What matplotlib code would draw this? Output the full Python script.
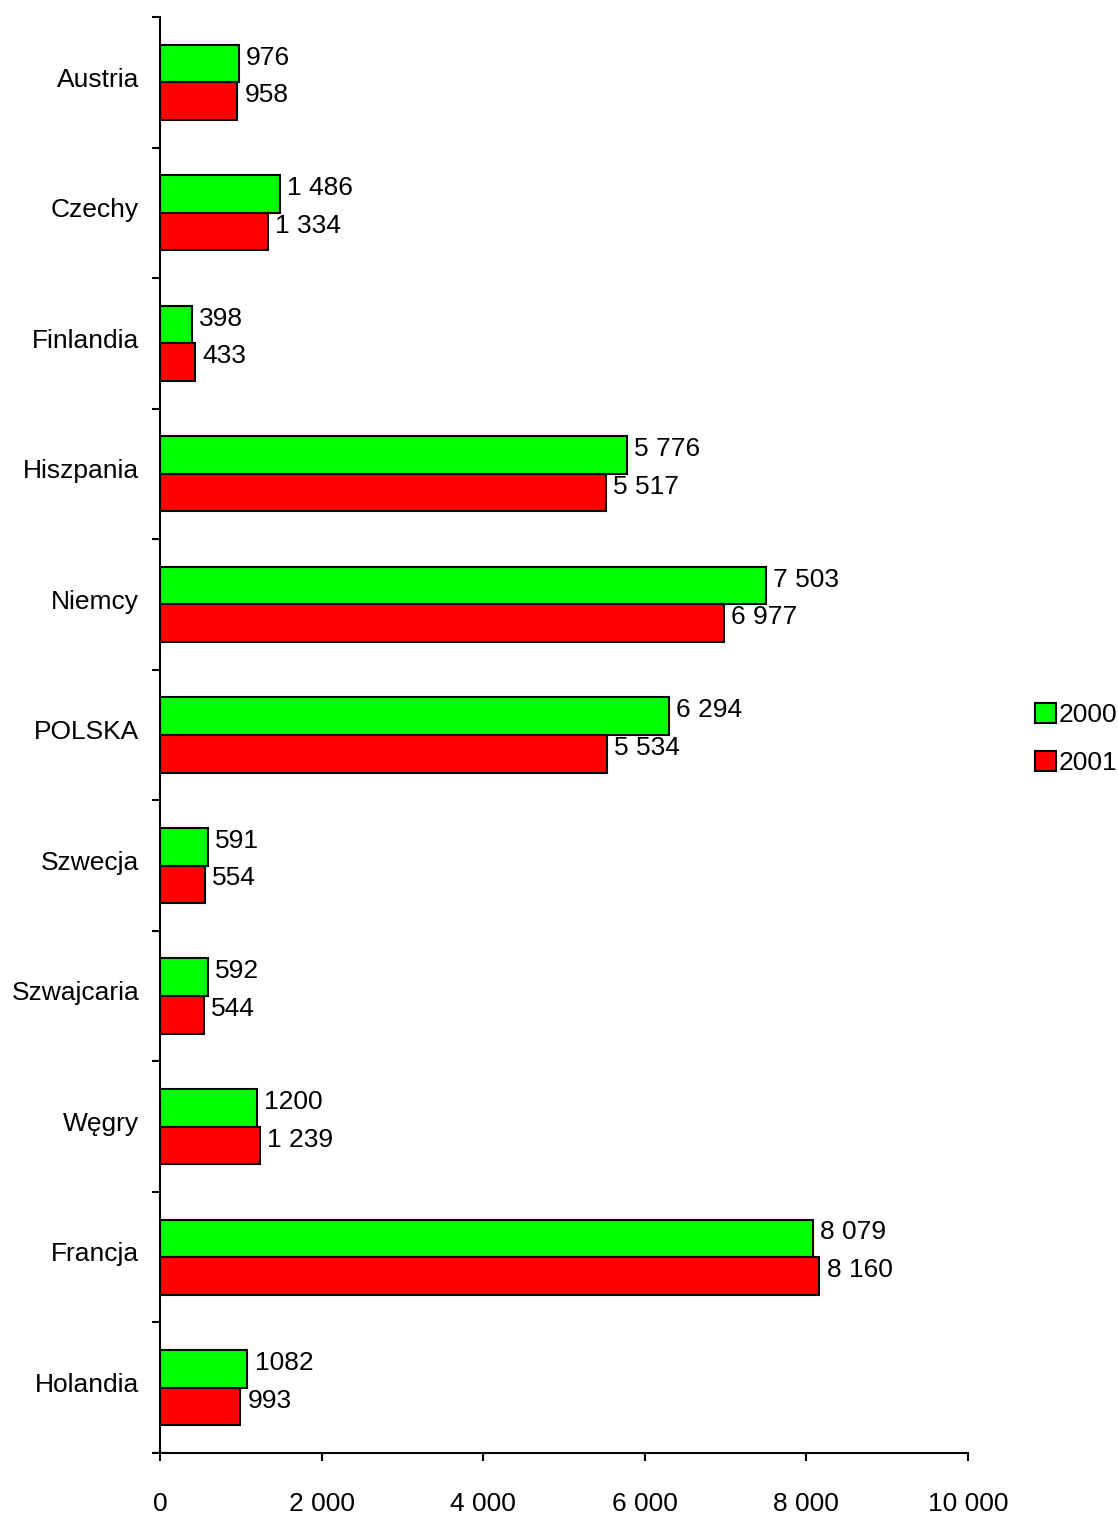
import numpy as np
import matplotlib.pyplot as plt
from matplotlib.patches import Patch

plt.rcParams['font.family'] = ['Liberation Sans', 'DejaVu Sans']

# data
countries = ['Austria', 'Czechy', 'Finlandia', 'Hiszpania', 'Niemcy', 'POLSKA',
             'Szwecja', 'Szwajcaria', 'Węgry', 'Francja', 'Holandia']
v2000 = [976, 1486, 398, 5776, 7503, 6294, 591, 592, 1200, 8079, 1082]
v2001 = [958, 1334, 433, 5517, 6977, 5534, 554, 544, 1239, 8160, 993]
lab2000 = ['976', '1 486', '398', '5 776', '7 503', '6 294', '591', '592', '1200', '8 079', '1082']
lab2001 = ['958', '1 334', '433', '5 517', '6 977', '5 534', '554', '544', '1 239', '8 160', '993']
xticks = [0, 2000, 4000, 6000, 8000, 10000]
xticklabels = ['0', '2 000', '4 000', '6 000', '8 000', '10 000']

fig = plt.figure(figsize=(11.18, 15.17), dpi=100)
ax = fig.add_axes([0.1431, 0.0422, 0.7227, 0.9466])

y = np.arange(len(countries))
h = 0.288
ax.barh(y - h/2, v2000, height=h, color='#00ff00', edgecolor='black', linewidth=1.5)
ax.barh(y + h/2, v2001, height=h, color='#ff0000', edgecolor='black', linewidth=1.5)

fs = 19
for yy, v, s in zip(y, v2000, lab2000):
    ax.text(v + 90, yy - h/2 - 0.045, s, va='center', ha='left', fontsize=fs)
for yy, v, s in zip(y, v2001, lab2001):
    ax.text(v + 90, yy + h/2 - 0.045, s, va='center', ha='left', fontsize=fs)

ax.set_ylim(len(countries) - 0.5, -0.5)
ax.set_xlim(0, 10000)

ax.set_yticks(np.arange(len(countries) + 1) - 0.5)
ax.set_yticklabels([])
ax.set_yticks(y - 0.04, minor=True)
ax.set_yticklabels(countries, minor=True, fontsize=fs)
ax.tick_params(axis='y', which='major', direction='out', length=6, width=1.5)
ax.tick_params(axis='y', which='minor', length=0, pad=15)

ax.set_xticks(xticks)
ax.set_xticklabels(xticklabels, fontsize=fs)
ax.tick_params(axis='x', direction='out', length=6, width=1.5, pad=22)

for sp in ['top', 'right']:
    ax.spines[sp].set_visible(False)
for sp in ['left', 'bottom']:
    ax.spines[sp].set_linewidth(1.5)

handles = [Patch(facecolor='#00ff00', edgecolor='black', linewidth=1.5, label='2000'),
           Patch(facecolor='#ff0000', edgecolor='black', linewidth=1.5, label='2001')]
fig.legend(handles=handles, loc='center left', bbox_to_anchor=(0.926, 0.513), frameon=False,
           fontsize=fs, handlelength=0.8, handleheight=0.8, handletextpad=0.1, labelspacing=0.9,
           borderaxespad=0, borderpad=0)

fig.savefig('out.png', dpi=100)
